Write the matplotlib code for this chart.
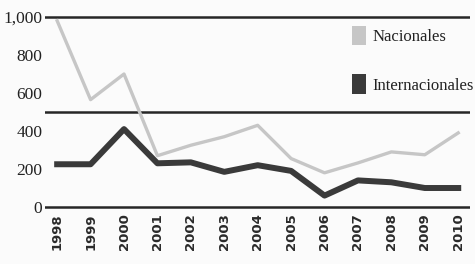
import numpy as np
import matplotlib
matplotlib.use("Agg")
import matplotlib.pyplot as plt
from matplotlib.patches import Patch

# Werte
jahre = [1998, 1999, 2000, 2001, 2002, 2003, 2004, 2005, 2006, 2007, 2008, 2009, 2010]
nacionales = [980, 565, 700, 270, 325, 370, 430, 255, 180, 232, 290, 275, 390]
internacionales = [225, 225, 410, 230, 235, 185, 220, 190, 60, 140, 130, 100, 100]
y_ticks = [0, 200, 400, 600, 800, 1000]
y_labels = ["0", "200", "400", "600", "800", "1,000"]
linien = [0, 500, 1000]

hell = "#c6c6c6"
dunkel = "#3a3a3a"

fig = plt.figure(figsize=(4.75, 2.64), dpi=100)
fig.patch.set_facecolor("#fbfbfb")
ax = fig.add_axes([0.095, 0.2015, 0.895, 0.7485])
ax.set_facecolor("#fbfbfb")

for y in linien:
    ax.axhline(y, color="#262626", lw=1.8, zorder=1)

ax.plot(jahre, nacionales, color=hell, lw=2.4, zorder=2)
ax.plot(jahre, internacionales, color=dunkel, lw=4.3, zorder=3)

ax.set_xlim(1997.64, 2010.36)
ax.set_ylim(-20, 1020)
ax.set_yticks(y_ticks)
ax.set_yticklabels(y_labels, family="Liberation Serif", fontsize=12.5, color="#222222")
ax.set_xticks(jahre)
ax.set_xticklabels([str(j) for j in jahre], rotation=90, fontsize=9.5,
                   color="#2a2a2a", fontweight="bold")
ax.tick_params(length=0)
ax.tick_params(axis="y", pad=2)
ax.tick_params(axis="x", pad=2)
for s in ax.spines.values():
    s.set_visible(False)

handles = [Patch(facecolor=hell, edgecolor="none"), Patch(facecolor=dunkel, edgecolor="none")]
fig.legend(handles, ["Nacionales", "Internacionales"], loc="upper left",
           bbox_to_anchor=(352 / 475, 1 - 26 / 264), frameon=False, borderpad=0,
           borderaxespad=0, handlelength=0.84, handleheight=1.4, handletextpad=0.4,
           labelspacing=1.75, prop={"family": "Liberation Serif", "size": 12},
           labelcolor="#222222")

fig.savefig("out.png", dpi=100, facecolor=fig.get_facecolor())
